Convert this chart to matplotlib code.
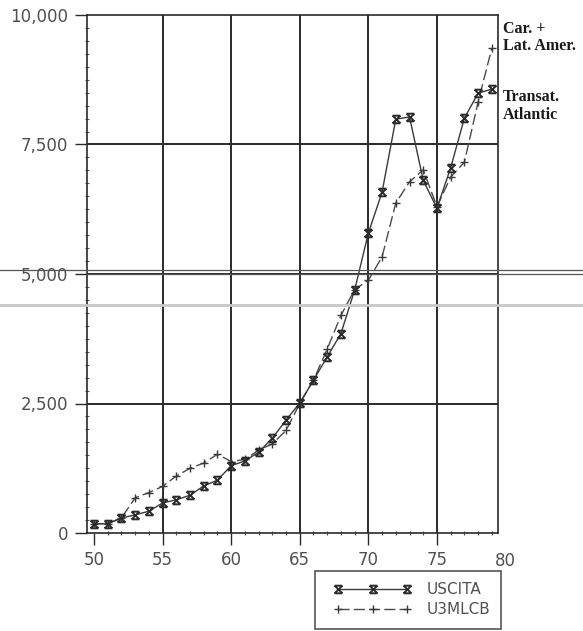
import numpy as np
import matplotlib
matplotlib.use("Agg")
import matplotlib.pyplot as plt
from matplotlib.path import Path
from matplotlib.lines import Line2D
from matplotlib.legend_handler import HandlerLine2D
from matplotlib.ticker import FixedLocator, FuncFormatter

# values
years = list(range(50, 80))
uscita = [180, 180, 290, 350, 420, 580, 640, 730, 910, 1020,
          1300, 1390, 1560, 1830, 2180, 2510, 2950, 3400, 3850, 4690,
          5790, 6580, 7990, 8030, 6810, 6270, 7050, 8010, 8490, 8570]
usmlcb = [180, 180, 290, 680, 780, 900, 1100, 1250, 1350, 1520,
          1380, 1420, 1600, 1720, 1980, 2500, 2950, 3550, 4200, 4700,
          4880, 5330, 6370, 6780, 7010, 6300, 6870, 7160, 8320, 9360]
series_names = ["USCITA", "U3MLCB"]
y_ticks = [0, 2500, 5000, 7500, 10000]
x_ticks = [50, 55, 60, 65, 70, 75]
side_labels = ["Car. +\nLat. Amer.", "Transat.\nAtlantic"]

# plotter style asterisk: an X closed by two horizontal bars
M, L = Path.MOVETO, Path.LINETO
star = Path([(-1, -1), (1, 1), (-1, 1), (1, -1), (-1, 1), (1, 1), (-1, -1), (1, -1)],
            [M, L, M, L, M, L, M, L])

W, H = 583, 631
fig = plt.figure(figsize=(W / 100, H / 100), dpi=100)
ax = fig.add_axes([87 / W, 1 - 533 / H, (498 - 87) / W, (533 - 15) / H])

ink = "#2a2a2a"
txt = "#505050"
fs = 12

ax.plot(years, uscita, color="#3a3a3a", lw=1.0, marker=star, ms=5.5,
        mew=1.4, mec=ink, label=series_names[0], zorder=4)
ax.plot(years, usmlcb, color="#4a4a4a", lw=1.0, dashes=(8, 3), marker="+",
        ms=6, mew=1.0, mec="#3a3a3a", label=series_names[1], zorder=3)

ax.set_xlim(49.49, 79.45)
ax.set_ylim(0, 10000)

ax.xaxis.set_major_locator(FixedLocator(x_ticks))
ax.xaxis.set_minor_locator(FixedLocator(years))
ax.yaxis.set_major_locator(FixedLocator(y_ticks))
ax.yaxis.set_minor_locator(FixedLocator(np.arange(0, 10001, 250)))
ax.yaxis.set_major_formatter(FuncFormatter(lambda v, p: f"{int(v):,}"))

ax.tick_params(which="major", direction="out", length=8.6, width=1.0,
               color=ink, labelsize=fs, labelcolor=txt)
ax.tick_params(axis="y", which="major", pad=5)
ax.tick_params(axis="x", which="major", pad=4.5)
ax.tick_params(which="minor", direction="inout", length=3.5, width=0.8, color="#555555")
ax.tick_params(top=False, right=False, which="both")

for v in x_ticks[1:]:
    ax.axvline(v, color=ink, lw=1.4, zorder=1)
for v in y_ticks[1:4]:
    ax.axhline(v, color=ink, lw=1.4, zorder=1)
for s in ax.spines.values():
    s.set_color(ink)
    s.set_linewidth(1.2)

# "80" sits just beyond the right edge of the frame
ax.text(80, -0.0365, "80", transform=ax.get_xaxis_transform(), ha="center",
        va="top", fontsize=fs, color=txt, clip_on=False)

fig.text(503 / W, 1 - 21 / H, side_labels[0], family="Liberation Serif",
         weight="bold", fontsize=11.5, color="#1a1a1a", va="top", ha="left",
         linespacing=1.05)
fig.text(503 / W, 1 - 89 / H, side_labels[1], family="Liberation Serif",
         weight="bold", fontsize=11.5, color="#1a1a1a", va="top", ha="left",
         linespacing=1.2)

leg = ax.legend(loc="upper left", bbox_to_anchor=(315 / W, 1 - 571 / H),
                bbox_transform=fig.transFigure, borderaxespad=0,
                fontsize=11, numpoints=3, handlelength=6.03, handletextpad=0.5,
                borderpad=0.75, labelspacing=0.3, fancybox=False,
                handler_map={Line2D: HandlerLine2D(marker_pad=0.73)})
leg.get_frame().set_edgecolor(ink)
leg.get_frame().set_linewidth(1.2)
for t in leg.get_texts():
    t.set_color(txt)

# scanner streaks across the page
fig.add_artist(Line2D([0, 1], [1 - 270 / H] * 2, transform=fig.transFigure,
                      color="#555555", lw=0.9))
fig.add_artist(Line2D([87 / W, 1], [1 - 274 / H] * 2, transform=fig.transFigure,
                      color="#555555", lw=0.9))
fig.add_artist(Line2D([0, 1], [1 - 305 / H] * 2, transform=fig.transFigure,
                      color="#c8c8c8", lw=2.0))

fig.savefig("out.png", dpi=100)
